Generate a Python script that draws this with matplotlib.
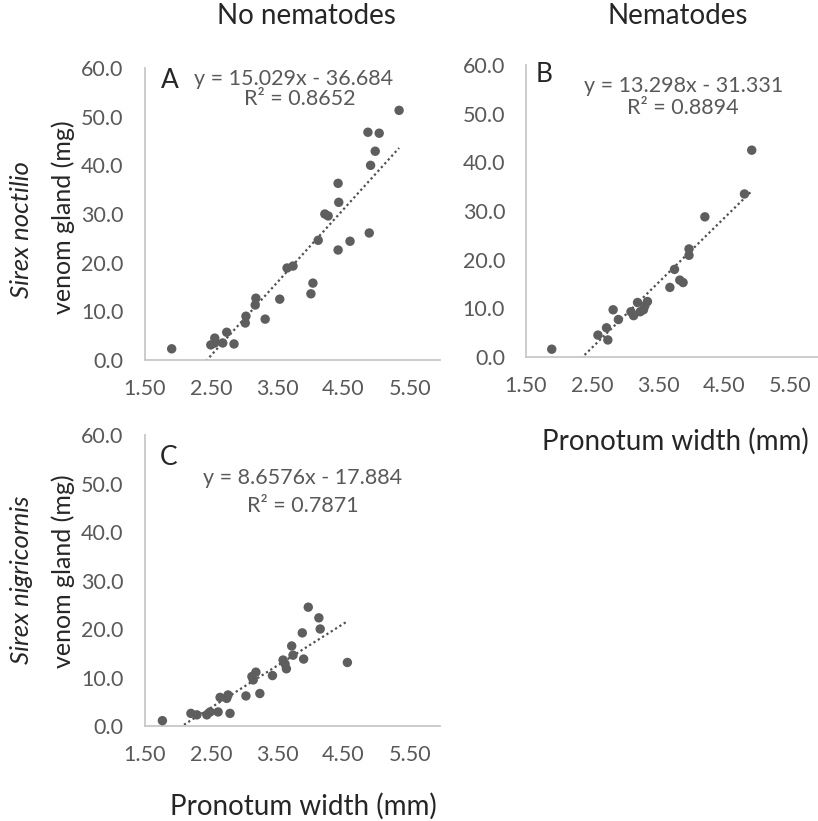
import matplotlib
matplotlib.use("Agg")
import matplotlib.pyplot as plt
import numpy as np

plt.rcParams['font.family'] = ['Lato', 'DejaVu Sans']

# ---------------- data ----------------
a_x = [1.91, 2.50, 2.56, 2.56, 2.68, 2.85, 2.74, 3.02, 3.03, 3.17, 3.18, 3.32, 3.54,
       3.65, 3.74, 4.01, 4.04, 4.12, 4.22, 4.27, 4.42, 4.43, 4.42, 4.60, 4.89, 4.91,
       4.98, 4.87, 5.04, 5.34]
a_y = [2.3, 3.1, 3.5, 4.5, 3.5, 3.3, 5.7, 7.6, 9.0, 11.3, 12.7, 8.4, 12.5,
       18.9, 19.3, 13.6, 15.8, 24.6, 30.0, 29.6, 22.6, 32.4, 36.3, 24.4, 26.1, 40.0,
       42.9, 46.8, 46.6, 51.3]

b_x = [1.89, 2.59, 2.74, 2.72, 2.90, 2.82, 3.09, 3.13, 3.19, 3.23, 3.28, 3.34, 3.30,
       3.68, 3.75, 3.83, 3.88, 3.97, 3.97, 4.21, 4.81, 4.92]
b_y = [1.6, 4.5, 3.5, 6.0, 7.7, 9.7, 9.3, 8.5, 11.2, 9.3, 9.7, 11.4, 10.5,
       14.3, 18.0, 15.8, 15.3, 22.2, 20.9, 28.8, 33.5, 42.5]

c_x = [1.77, 2.20, 2.29, 2.44, 2.49, 2.61, 2.64, 2.76, 2.74, 2.79, 3.03, 3.24, 3.12,
       3.18, 3.14, 3.43, 3.59, 3.64, 3.62, 3.72, 3.74, 3.90, 3.88, 3.97, 4.13, 4.15, 4.56]
c_y = [1.1, 2.6, 2.3, 2.3, 2.9, 2.9, 5.9, 6.4, 5.7, 2.6, 6.2, 6.7, 10.2,
       11.1, 9.5, 10.4, 13.6, 11.8, 12.8, 16.5, 14.6, 13.8, 19.2, 24.5, 22.3, 20.0, 13.1]

panel_letters = ["A", "B", "C"]
slopes = [15.029, 13.298, 8.6576]
intercepts = [-36.684, -31.331, -17.884]
r2_values = ["0.8652", "0.8894", "0.7871"]
eq_texts = ["y = 15.029x - 36.684", "y = 13.298x - 31.331", "y = 8.6576x - 17.884"]

x_ticks = [1.5, 2.5, 3.5, 4.5, 5.5]
y_ticks = [0, 10, 20, 30, 40, 50, 60]
col_titles = ["No nematodes", "Nematodes"]
x_label = "Pronotum width (mm)"
y_species = ["Sirex noctilio", "Sirex nigricornis"]
y_label = "venom gland (mg)"

# ---------------- layout ----------------
W, H = 818, 821
fig = plt.figure(figsize=(W / 100, H / 100), dpi=100)
fig.patch.set_facecolor("white")

XMIN, XMAX = 1.5, 5.95

def add_axes(left, top, bottom, ppu):
    right = left + (XMAX - XMIN) * ppu
    return fig.add_axes([left / W, 1 - bottom / H, (right - left) / W, (bottom - top) / H])

ax_a = add_axes(144.5, 68, 360, 66.3)
ax_b = add_axes(526, 65, 357, 66.0)
ax_c = add_axes(144.5, 435, 726, 66.3)

tick_color = "#595959"
axis_color = "#c8c8c8"
pt_color = "#5e5e5e"
text_dark = "#262626"

panels = [(ax_a, a_x, a_y), (ax_b, b_x, b_y), (ax_c, c_x, c_y)]
for i, (ax, xs, ys) in enumerate(panels):
    ax.scatter(xs, ys, s=46, color=pt_color, edgecolors="none", zorder=3)
    xl = np.array([min(xs), max(xs)])
    ax.plot(xl, slopes[i] * xl + intercepts[i], linestyle=(0, (1, 1.3)), color="#505050",
            lw=1.6, zorder=2)
    ax.set_xlim(XMIN, XMAX)
    ax.set_ylim(0, 60)
    ax.set_xticks(x_ticks)
    ax.set_xticklabels([f"{t:.2f}" for t in x_ticks])
    ax.set_yticks(y_ticks)
    ax.set_yticklabels([f"{t:.1f}" for t in y_ticks])
    ax.tick_params(length=0, labelsize=15.5, labelcolor=tick_color)
    ax.tick_params(axis="x", pad=14)
    ax.tick_params(axis="y", pad=15)
    for s in ["top", "right"]:
        ax.spines[s].set_visible(False)
    for s in ["left", "bottom"]:
        ax.spines[s].set_color(axis_color)
        ax.spines[s].set_linewidth(1.3)
    ax.patch.set_alpha(0)

def ftext(x, y, s, **kw):
    fig.text(x / W, 1 - y / H, s, **kw)

letter_pos = [(170, 81), (544, 74), (169, 457)]
for i, (lx, ly) in enumerate(letter_pos):
    ftext(lx, ly, panel_letters[i], fontsize=19, color=text_dark, ha="center", va="center")

eq_pos = [(294, 79, 300, 99), (684, 86, 683, 108), (303, 478, 303, 506)]
for i, (ex, ey, rx, ry) in enumerate(eq_pos):
    ftext(ex, ey, eq_texts[i], fontsize=15.5, color=tick_color, ha="center", va="center")
    ftext(rx, ry, "R² = " + r2_values[i], fontsize=15.5, color=tick_color, ha="center", va="center")

ftext(306, 16, col_titles[0], fontsize=20, color=text_dark, ha="center", va="center")
ftext(678, 16, col_titles[1], fontsize=20, color=text_dark, ha="center", va="center")

ftext(22, 230, y_species[0], fontsize=18.5, style="italic", color=text_dark,
      rotation=90, ha="center", va="center")
ftext(63, 217, y_label, fontsize=18, color=text_dark, rotation=90, ha="center", va="center")
ftext(22, 580, y_species[1], fontsize=18.5, style="italic", color=text_dark,
      rotation=90, ha="center", va="center")
ftext(63, 571, y_label, fontsize=18, color=text_dark, rotation=90, ha="center", va="center")

ftext(675, 441, x_label, fontsize=20, color=text_dark, ha="center", va="center")
ftext(303, 806, x_label, fontsize=20, color=text_dark, ha="center", va="center")

fig.savefig("out.png", dpi=100, facecolor="white")
